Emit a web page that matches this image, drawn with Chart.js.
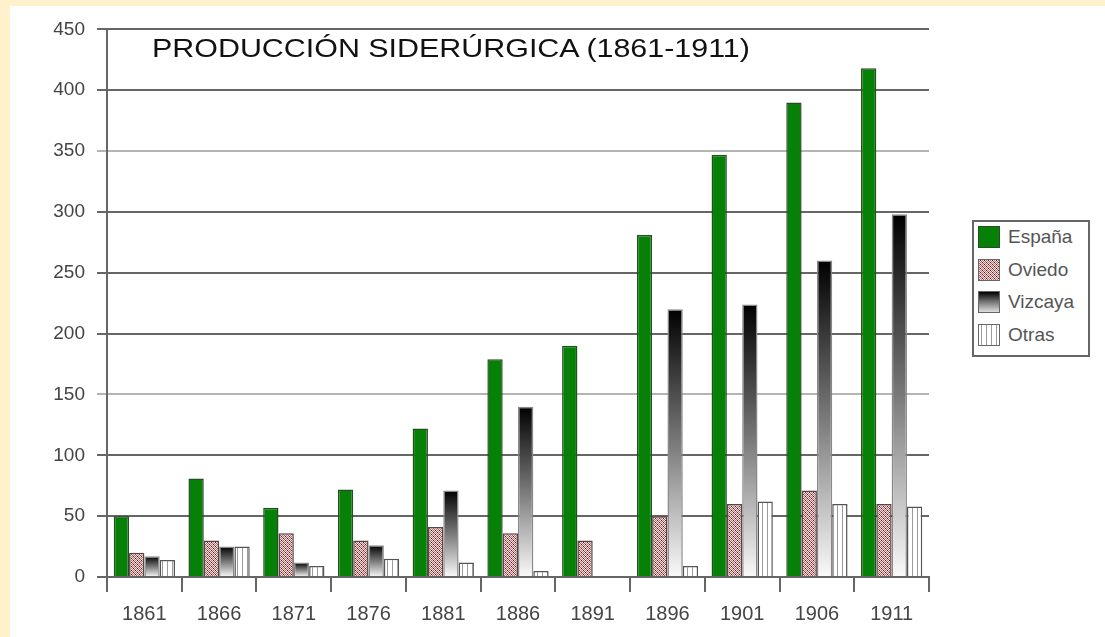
<!DOCTYPE html>
<html>
<head>
<meta charset="utf-8">
<title>Producción siderúrgica (1861-1911)</title>
<script src="https://cdn.jsdelivr.net/npm/chart.js@4"></script>
<style>
  body { margin: 0; width: 1105px; height: 637px; overflow: hidden; position: relative; background: #fef1cc; font-family: 'Liberation Sans', Arial, sans-serif; }
  #box { position: absolute; left: 10px; top: 6px; width: 1095px; height: 631px; background: #fff; }
  #title { position: absolute; left: 152px; top: 35px; font-size: 26px; line-height: 1; color: #111; white-space: nowrap; transform: scaleX(1.17); transform-origin: 0 0; }
  #legend { position: absolute; left: 972px; top: 220px; width: 114px; height: 133px; border: 2px solid #666; background: #fff; }
  .item { position: absolute; left: 4px; height: 22px; display: flex; align-items: center; font-size: 19px; color: #555; white-space: nowrap; }
  .sw { width: 20px; height: 20px; border: 1px solid #666; margin-right: 8px; box-sizing: content-box; }
</style>
</head>
<body>
<div id="box"><canvas id="chart"></canvas></div>
<div id="title">PRODUCCIÓN SIDERÚRGICA (1861-1911)</div>
<div id="legend"></div>
<script>
// Data (miles de toneladas)
const years = ['1861', '1866', '1871', '1876', '1881', '1886', '1891', '1896', '1901', '1906', '1911'];
const espana = [50, 81, 57, 72, 122, 179, 190, 281, 347, 390, 418];
const oviedo = [20, 30, 36, 30, 41, 36, 30, 50, 60, 71, 60];
const vizcaya = [17, 25, 12, 26, 71, 140, 0, 220, 224, 260, 298];
const otras = [14, 25, 9, 15, 12, 5, 0, 9, 62, 60, 58];
const seriesNames = ['España', 'Oviedo', 'Vizcaya', 'Otras'];

const canvas = document.getElementById('chart');
const ctx = canvas.getContext('2d');

// small tiles for the hatched fills
const makeTile = (w, h, draw) => {
    const c = document.createElement('canvas');
    c.width = w;
    c.height = h;
    draw(c.getContext('2d'));
    return c;
}

const checkTile = makeTile(4, 4, (t) => {
    const map = [
        ['#f2dede', '#6e1414', '#f2dede', '#b07c7c'],
        ['#b07c7c', '#f2dede', '#9a5c5c', '#f2dede'],
        ['#f2dede', '#b07c7c', '#f2dede', '#6e1414'],
        ['#9a5c5c', '#f2dede', '#b07c7c', '#f2dede'],
    ]
    for (let y = 0; y < 4; y++) {
        for (let x = 0; x < 4; x++) {
            t.fillStyle = map[y][x];
            t.fillRect(x, y, 1, 1);
        }
    }
})

const stripeTile = makeTile(5, 5, (t) => {
    t.fillStyle = '#fff';
    t.fillRect(0, 0, 5, 5);
    t.fillStyle = '#9a9a9a';
    t.fillRect(2, 0, 1, 5);
})

const checkPattern = ctx.createPattern(checkTile, 'repeat');
const stripePattern = ctx.createPattern(stripeTile, 'repeat');

const vizcayaFill = (c) => {
    const chart = c.chart;
    if (c.type !== 'data' || !chart.chartArea) return '#555';
    const y = chart.scales.y;
    const top = y.getPixelForValue(c.raw);
    const bottom = y.getPixelForValue(0);
    if (bottom - top < 1) return '#000';
    const g = chart.ctx.createLinearGradient(0, top, 0, bottom);
    g.addColorStop(0, '#000');
    g.addColorStop(0.5, '#7a7a7a');
    g.addColorStop(1, '#fafafa');
    return g;
}

const gridColor = (c) => (c.tick && (c.tick.value === 150 || c.tick.value === 350)) ? '#b4b4b4' : '#666';

const chart = new Chart(canvas, {
    type: 'bar',
    data: {
        labels: years,
        datasets: [
            { label: seriesNames[0], data: espana, backgroundColor: '#078007', borderColor: '#234f23', borderWidth: 1.5 },
            { label: seriesNames[1], data: oviedo, backgroundColor: checkPattern, borderColor: '#5a4444', borderWidth: 1.5 },
            { label: seriesNames[2], data: vizcaya, backgroundColor: vizcayaFill, borderColor: '#888', borderWidth: 1.5 },
            { label: seriesNames[3], data: otras, backgroundColor: stripePattern, borderColor: '#555', borderWidth: 1.5 },
        ],
    },
    options: {
        responsive: true,
        maintainAspectRatio: false,
        animation: false,
        layout: { padding: { top: 23, right: 176, left: 0, bottom: 0 } },
        datasets: { bar: { categoryPercentage: 0.82, barPercentage: 1 } },
        plugins: {
            legend: { display: false },
            tooltip: { enabled: false },
        },
        scales: {
            x: {
                afterFit: (scale) => { scale.height = 60 },
                grid: { drawOnChartArea: false, drawTicks: true, tickLength: 15, color: '#666', lineWidth: 2 },
                border: { color: '#666', width: 2 },
                ticks: { color: '#444', padding: 10, font: { family: "'Liberation Sans', Arial", size: 20 }, maxRotation: 0 },
            },
            y: {
                min: 0,
                max: 450,
                afterFit: (scale) => { scale.width = 97 },
                grid: { color: gridColor, lineWidth: 2, tickLength: 10 },
                border: { color: '#666', width: 2 },
                ticks: { stepSize: 50, color: '#444', padding: 12, font: { family: "'Liberation Sans', Arial", size: 19 } },
            },
        },
    },
});

// HTML legend
const legendRender = () => {
    const legend = document.getElementById('legend');
    const swatches = [
        'background:#078007;border-color:#234f23',
        `background-image:url(${checkTile.toDataURL()});background-size:4px 4px;image-rendering:pixelated`,
        'background:linear-gradient(#000, #777 50%, #ddd)',
        `background-image:url(${stripeTile.toDataURL()});background-size:5px 5px`,
    ]
    chart.data.datasets.forEach((ds, i) => {
        const item = document.createElement('div');
        item.className = 'item';
        item.style.top = (4 + i * 32.7) + 'px';
        item.innerHTML = `<span class="sw" style="${swatches[i]}"></span><span>${ds.label}</span>`;
        legend.appendChild(item);
    })
}

legendRender()
</script>
</body>
</html>
